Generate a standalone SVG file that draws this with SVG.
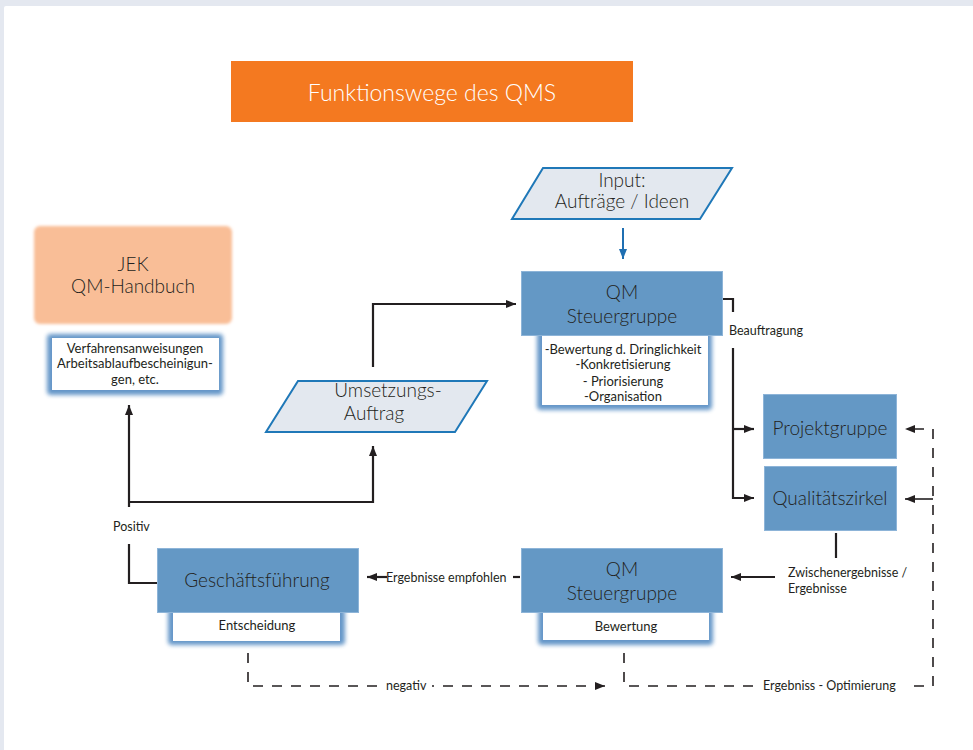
<svg xmlns="http://www.w3.org/2000/svg" width="973" height="750" viewBox="0 0 973 750">
<defs>
<style>
text{font-family:Lato,"Open Sans","Liberation Sans",sans-serif;font-weight:300;fill:#231f20}
.big{font-size:19px;text-anchor:middle}
.sm{font-size:13px;text-anchor:middle;font-weight:400}
.lbl{font-size:12.5px;font-weight:400}
.box{fill:#6498c5;stroke:#8db4d8;stroke-width:1}
.para{fill:#e3e8ef;stroke:#1f78b8;stroke-width:2}
.glow{fill:#4a84bf;opacity:0.85}
.sub{fill:#ffffff}
.ln{fill:none;stroke:#231f20;stroke-width:2.2}
.dash{fill:none;stroke:#231f20;stroke-width:1.6;stroke-dasharray:10 9}
</style>
<filter id="blur" x="-20%" y="-30%" width="140%" height="160%"><feGaussianBlur stdDeviation="2.2"/></filter>
<filter id="soft" x="-10%" y="-10%" width="120%" height="120%"><feGaussianBlur stdDeviation="1.8"/></filter>
<marker id="ah" viewBox="0 0 10 8" refX="10" refY="4" markerWidth="10" markerHeight="8" markerUnits="userSpaceOnUse" orient="auto"><path d="M0,0 L10,4 L0,8 Z" fill="#231f20"/></marker>
<marker id="ahb" viewBox="0 0 10 8" refX="10" refY="4" markerWidth="10" markerHeight="9" markerUnits="userSpaceOnUse" orient="auto"><path d="M0,0 L10,4 L0,8 Z" fill="#1f6fb2"/></marker>
</defs>
<rect x="0" y="0" width="973" height="750" fill="#e4e8f0"/>
<rect x="4" y="6" width="980" height="760" rx="2" fill="#ffffff"/>

<g id="title">
<rect x="231" y="61" width="402" height="61" fill="#f47920"/>
<text x="432" y="101" style="font-size:23px;text-anchor:middle;fill:#ffffff">Funktionswege des QMS</text>
</g>

<g id="jek">
<rect x="34" y="226" width="198" height="98" rx="6" fill="#f9be97" filter="url(#soft)"/>
<text class="big" x="133" y="271">JEK</text>
<text class="big" x="133" y="293">QM-Handbuch</text>
</g>

<g id="verfahren">
<rect class="glow" x="47" y="334" width="176" height="61" rx="4" filter="url(#blur)"/>
<rect class="sub" x="52" y="338" width="167" height="52"/>
<text class="sm" x="135" y="353">Verfahrensanweisungen</text>
<text class="sm" x="135" y="368">Arbeitsablaufbescheinigun-</text>
<text class="sm" x="135" y="384">gen, etc.</text>
</g>

<g id="input">
<polygon class="para" points="543,168 732,168 700,219 512,219"/>
<text class="big" x="622" y="187">Input:</text>
<text class="big" x="622" y="208">Aufträge / Ideen</text>
</g>

<g id="qm-top">
<rect class="glow" x="537" y="330" width="175" height="80" rx="4" filter="url(#blur)"/>
<rect class="sub" x="542" y="334" width="166" height="71"/>
<rect class="box" x="521.5" y="271.5" width="201" height="64"/>
<text class="big" x="622" y="299">QM</text>
<text class="big" x="622" y="323">Steuergruppe</text>
<text class="sm" x="623" y="354">-Bewertung d. Dringlichkeit</text>
<text class="sm" x="623" y="369">-Konkretisierung</text>
<text class="sm" x="623" y="386">- Priorisierung</text>
<text class="sm" x="623" y="401">-Organisation</text>
</g>

<g id="umsetzung">
<polygon class="para" points="298,381 487,381 455,432 266,432"/>
<text class="big" x="388" y="397">Umsetzungs-</text>
<text class="big" x="374" y="420">Auftrag</text>
</g>

<g id="projektgruppe">
<rect class="box" x="763.5" y="394.5" width="133" height="64"/>
<text class="big" x="830" y="435">Projektgruppe</text>
</g>

<g id="qualitaetszirkel">
<rect class="box" x="764.5" y="466.5" width="132" height="64"/>
<text class="big" x="830" y="505">Qualitätszirkel</text>
</g>

<g id="qm-bottom">
<rect class="glow" x="538" y="608" width="175" height="37" rx="4" filter="url(#blur)"/>
<rect class="sub" x="543" y="612" width="166" height="28"/>
<rect class="box" x="521.5" y="548.5" width="201" height="64"/>
<text class="big" x="622" y="576">QM</text>
<text class="big" x="622" y="600">Steuergruppe</text>
<text class="sm" x="626" y="631">Bewertung</text>
</g>

<g id="geschaeftsfuehrung">
<rect class="glow" x="168" y="608" width="177" height="37" rx="4" filter="url(#blur)"/>
<rect class="sub" x="173" y="612" width="167" height="29"/>
<rect class="box" x="157.5" y="548.5" width="201" height="64"/>
<text class="big" x="257" y="587">Geschäftsführung</text>
<text class="sm" x="257" y="630">Entscheidung</text>
</g>

<g id="connectors">
<line x1="623" y1="228" x2="623" y2="259" stroke="#1f6fb2" stroke-width="2" marker-end="url(#ahb)"/>
<path class="ln" d="M373,367 V304 H516" marker-end="url(#ah)"/>
<path class="ln" d="M723,299 H733 V312"/>
<path class="ln" d="M733,348 V498 H754" marker-end="url(#ah)"/>
<path class="ln" d="M733,429 H754" marker-end="url(#ah)"/>
<path class="ln" d="M836,533 V558"/>
<path class="ln" d="M775,577 H731" marker-end="url(#ah)"/>
<path class="ln" d="M387,577 H367" marker-end="url(#ah)"/>
<path class="ln" d="M513,577 H520"/>
<path class="ln" d="M157,583 H129 V544"/>
<path class="ln" d="M129,507 V405" marker-end="url(#ah)"/>
<path class="ln" d="M129,502 H373 V446" marker-end="url(#ah)"/>
<path class="dash" d="M248,653 V686 H605" marker-end="url(#ah)"/>
<path class="dash" d="M624,653 V686 H933 V429 H905" marker-end="url(#ah)"/>
<path class="dash" d="M933,499 H905" style="stroke-dasharray:none" marker-end="url(#ah)"/>
</g>

<g id="labels">
<text class="lbl" x="729" y="335">Beauftragung</text>
<text class="lbl" x="788" y="577">Zwischenergebnisse /</text>
<text class="lbl" x="788" y="593">Ergebnisse</text>
<text class="lbl" x="386" y="582">Ergebnisse empfohlen</text>
<text class="lbl" x="113" y="531">Positiv</text>
<rect x="382" y="678" width="50" height="16" fill="#ffffff"/>
<text class="lbl" x="386" y="690">negativ</text>
<rect x="759" y="678" width="146" height="16" fill="#ffffff"/>
<text class="lbl" x="763" y="690">Ergebniss - Optimierung</text>
</g>
</svg>
